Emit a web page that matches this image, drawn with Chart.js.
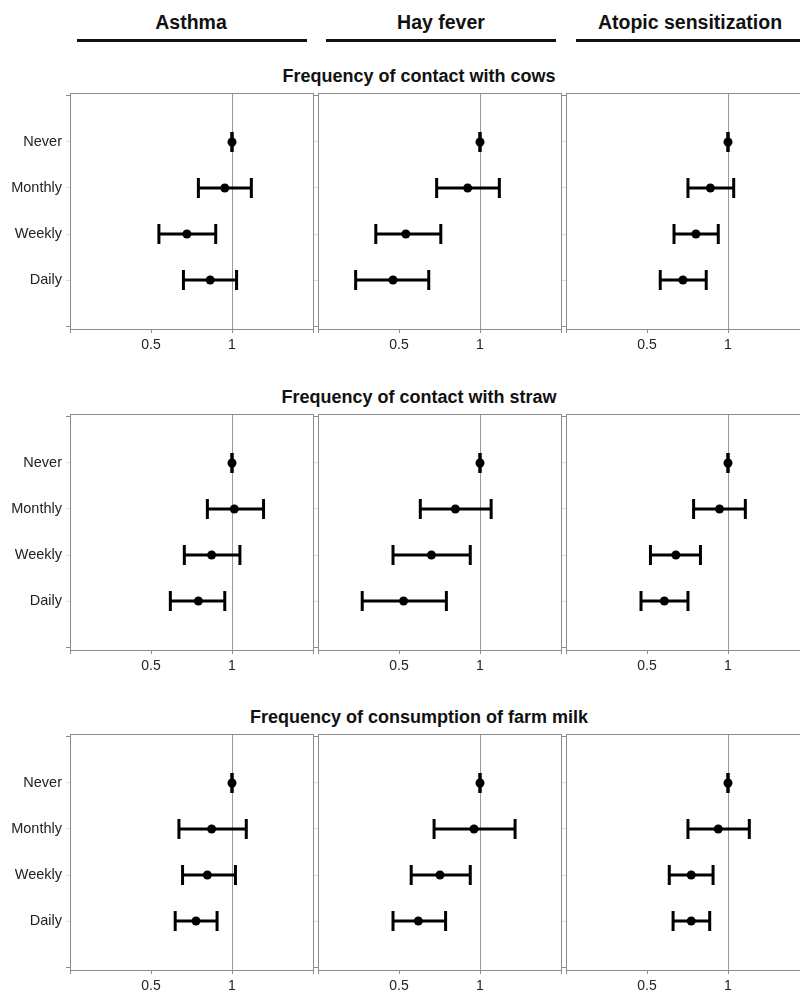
<!DOCTYPE html>
<html>
<head>
<meta charset="utf-8">
<script src="https://cdn.jsdelivr.net/npm/chart.js@4.4.1/dist/chart.umd.min.js"></script>
<style>
    html, body { margin: 0; padding: 0; width: 800px; height: 997px; overflow: hidden; background: #fff; }
    body { position: relative; font-family: "Liberation Sans", Arial, sans-serif; }
    .head { position: absolute; top: 9px; width: 260px; margin-left: -130px; text-align: center;
            font-family: "Liberation Sans", Arial, sans-serif;
            font-weight: bold; font-size: 19.5px; line-height: 26px; color: #111; }
    .rule { position: absolute; top: 39px; height: 3px; background: #111; }
    .section { position: absolute; width: 500px; margin-left: -250px; left: 419px; text-align: center;
               font-family: "Liberation Sans", Arial, sans-serif;
               font-weight: bold; font-size: 18px; line-height: 22px; color: #111; }
    canvas { position: absolute; }
</style>
</head>
<body>
<div class="head" style="left:191px">Asthma</div>
<div class="head" style="left:441px">Hay fever</div>
<div class="head" style="left:690px">Atopic sensitization</div>
<div class="rule" style="left:77px;width:230px"></div>
<div class="rule" style="left:326px;width:230px"></div>
<div class="rule" style="left:576px;width:230px"></div>
<div id="panels"></div>

<script>
// Columns and rows of the figure
const outcomes = ['Asthma', 'Hay fever', 'Atopic sensitization'];
const exposures = ['Frequency of contact with cows', 'Frequency of contact with straw', 'Frequency of consumption of farm milk'];
const frequencies = ['Never', 'Monthly', 'Weekly', 'Daily'];
const xTicks = [0.25, 0.5, 1, 2];
const xTickLabels = ['', '0.5', '1', ''];

// Odds ratios with 95% CI, one inner array per outcome (asthma, hay fever, atopy)
const cowsOR    = [[1, 0.94, 0.68, 0.83], [1, 0.90, 0.53, 0.475], [1, 0.86, 0.76, 0.68]];
const cowsLow   = [[1, 0.75, 0.535, 0.66], [1, 0.69, 0.41, 0.345], [1, 0.71, 0.63, 0.56]];
const cowsHigh  = [[1, 1.18, 0.87, 1.04], [1, 1.18, 0.715, 0.645], [1, 1.05, 0.92, 0.83]];

const strawOR   = [[1, 1.02, 0.84, 0.75], [1, 0.81, 0.66, 0.52], [1, 0.93, 0.64, 0.58]];
const strawLow  = [[1, 0.81, 0.665, 0.59], [1, 0.60, 0.475, 0.365], [1, 0.745, 0.515, 0.475]];
const strawHigh = [[1, 1.31, 1.07, 0.94], [1, 1.10, 0.92, 0.75], [1, 1.16, 0.79, 0.71]];

const milkOR    = [[1, 0.84, 0.81, 0.735], [1, 0.95, 0.71, 0.59], [1, 0.92, 0.73, 0.73]];
const milkLow   = [[1, 0.635, 0.655, 0.615], [1, 0.675, 0.555, 0.475], [1, 0.71, 0.605, 0.625]];
const milkHigh  = [[1, 1.13, 1.03, 0.88], [1, 1.35, 0.92, 0.745], [1, 1.20, 0.88, 0.855]];

const estimates = [cowsOR, strawOR, milkOR];
const lowers = [cowsLow, strawLow, milkLow];
const uppers = [cowsHigh, strawHigh, milkHigh];

// panel geometry (plot area edges in page pixels)
const plotLeft = [70, 318, 566];
const plotWidth = 243;
const plotTop = [93, 414, 734];
const plotHeight = 236;
const frameColor = '#8c8c8c';

const panels = document.getElementById('panels');

function noPadding(axis) {
    axis.paddingTop = 0;
    axis.paddingBottom = 0;
    axis.paddingLeft = 0;
    axis.paddingRight = 0;
}

exposures.forEach((title, r) => {
    const t = document.createElement('div');
    t.className = 'section';
    t.style.top = (plotTop[r] - 28) + 'px';
    t.textContent = title;
    panels.appendChild(t);

    outcomes.forEach((outcome, c) => {
        const yAxisW = c === 0 ? 70 : 6;
        const canvas = document.createElement('canvas');
        canvas.width = yAxisW + plotWidth + 2;
        canvas.height = 2 + plotHeight + 32;
        canvas.style.left = (plotLeft[c] - yAxisW) + 'px';
        canvas.style.top = (plotTop[r] - 2) + 'px';
        panels.appendChild(canvas);
        drawPanel(canvas, estimates[r][c], lowers[r][c], uppers[r][c], yAxisW, c === 0);
    });
});

function drawPanel(canvas, or, low, high, yAxisW, showLabels) {
    const datasets = [];
    frequencies.forEach((f, i) => {
        datasets.push({
            data: [{ x: low[i], y: i + 1 }, { x: high[i], y: i + 1 }],
            showLine: true,
            borderColor: '#000',
            borderWidth: 3,
            pointStyle: 'line',
            pointRotation: 90,
            pointRadius: 10,
            pointBorderWidth: 3,
            pointBorderColor: '#000'
        });
    });
    datasets.push({
        data: or.map((v, i) => ({ x: v, y: i + 1 })),
        pointStyle: 'circle',
        pointRadius: 4.5,
        pointBackgroundColor: '#000',
        pointBorderColor: '#000',
        pointBorderWidth: 0
    });

    new Chart(canvas.getContext('2d'), {
        type: 'scatter',
        data: { datasets },
        options: {
            responsive: false,
            animation: false,
            events: [],
            layout: { padding: 0, autoPadding: false },
            plugins: { legend: { display: false }, tooltip: { enabled: false } },
            scales: {
                x: {
                    type: 'logarithmic',
                    position: 'bottom',
                    min: 0.25,
                    max: 2,
                    afterBuildTicks: axis => { axis.ticks = xTicks.map(v => ({ value: v })); },
                    afterFit: axis => { axis.height = 32; noPadding(axis); },
                    ticks: {
                        autoSkip: false,
                        maxRotation: 0,
                        padding: 4,
                        color: '#222',
                        font: { family: 'Liberation Sans, Arial', size: 14 },
                        callback: v => xTickLabels[xTicks.indexOf(v)] ?? ''
                    },
                    grid: {
                        color: ctx => ctx.tick && ctx.tick.value === 1 ? '#9a9a9a' : 'rgba(0,0,0,0)',
                        tickColor: frameColor,
                        tickLength: 4,
                        lineWidth: 1
                    },
                    border: { display: true, color: frameColor, width: 1 }
                },
                y: {
                    type: 'linear',
                    reverse: true,
                    min: -0.065,
                    max: 5.065,
                    afterBuildTicks: axis => { axis.ticks = [0, 1, 2, 3, 4, 5].map(v => ({ value: v })); },
                    afterFit: axis => { axis.width = yAxisW; noPadding(axis); },
                    ticks: {
                        display: showLabels,
                        padding: 4,
                        color: '#222',
                        font: { family: 'Liberation Sans, Arial', size: 14.5 },
                        callback: v => frequencies[v - 1] || ''
                    },
                    grid: {
                        drawOnChartArea: false,
                        color: 'rgba(0,0,0,0)',
                        tickColor: ctx => ctx.tick && (ctx.tick.value === 0 || ctx.tick.value === 5) ? frameColor : '#dddddd',
                        tickLength: 4
                    },
                    border: { display: true, color: frameColor, width: 1 }
                },
                xTop: {
                    type: 'linear',
                    position: 'top',
                    afterFit: axis => { axis.height = 2; noPadding(axis); },
                    ticks: { display: false },
                    grid: { display: false },
                    border: { display: true, color: frameColor, width: 1 }
                },
                yRight: {
                    type: 'linear',
                    position: 'right',
                    afterFit: axis => { axis.width = 2; noPadding(axis); },
                    ticks: { display: false },
                    grid: { display: false },
                    border: { display: true, color: frameColor, width: 1 }
                }
            }
        }
    });
}
</script>
</body>
</html>
